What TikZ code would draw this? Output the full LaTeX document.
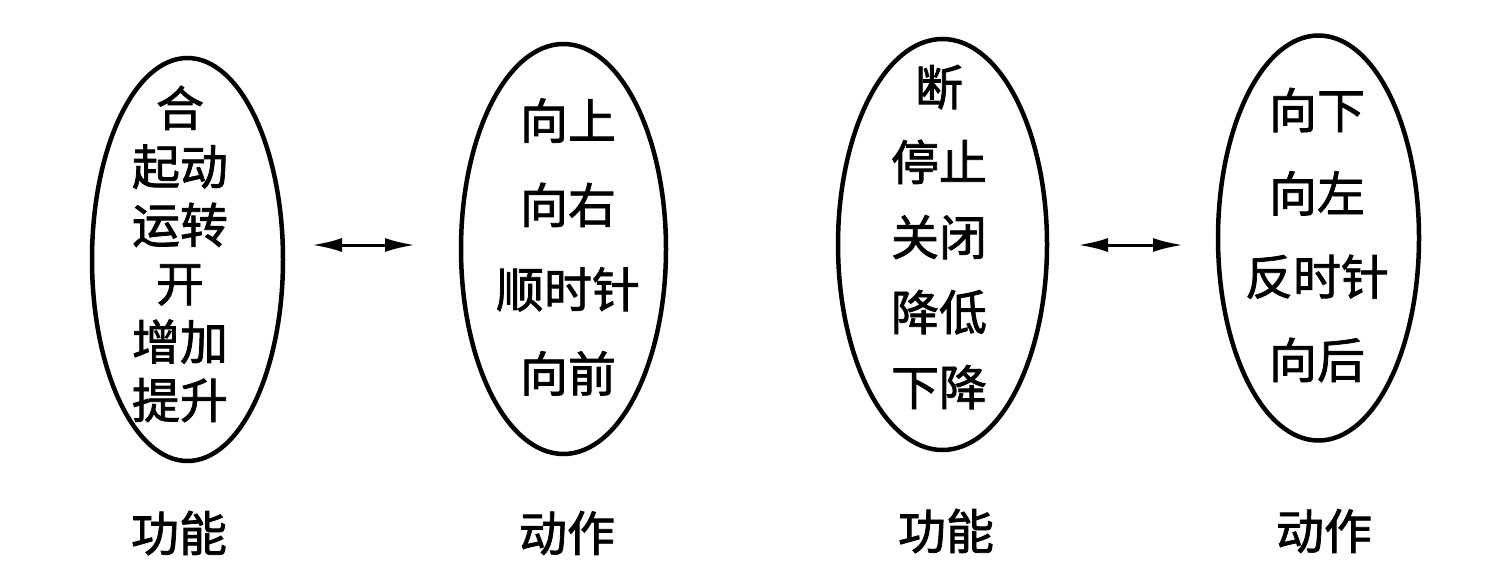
\documentclass[tikz,border=0pt]{standalone}
\usepackage{fontspec}
\newfontfamily\cjk{Noto Sans CJK SC}[FakeBold=1.6]
\usetikzlibrary{shapes.geometric,arrows.meta}
\tikzset{
  egg/.style={draw=black, line width=4.5pt, ellipse, inner sep=0pt},
  words/.style={align=center, inner sep=0pt, font=\cjk\fontsize{48}{#1}\selectfont},
  caption/.style={inner sep=0pt, font=\cjk\fontsize{48}{58}\selectfont},
  dbl/.style={line width=3pt, {Latex[length=30pt,width=14pt]}-{Latex[length=30pt,width=14pt]}}
}
\begin{document}
\begin{tikzpicture}[x=1pt,y=-1pt]
\useasboundingbox[fill=white] (0,0) rectangle (1488,567);
% ellipses
\node[egg, minimum width=191pt, minimum height=403pt] (e1) at (187.5,259.5) {};
\node[egg, minimum width=205pt, minimum height=410pt] (e2) at (563.5,249) {};
\node[egg, minimum width=209pt, minimum height=411pt] (e3) at (942.5,244.5) {};
\node[egg, minimum width=201pt, minimum height=405pt] (e4) at (1318.5,238) {};
% texts
\node[words=58.4] (t1) at (180,254) {合\\起动\\运转\\开\\增加\\提升};
\node[words=84.3] (t2) at (568,247) {向上\\向右\\顺时针\\向前};
\node[words=75] (t3) at (939,237) {断\\停止\\关闭\\降低\\下降};
\node[words=83.3] (t4) at (1317,235) {向下\\向左\\反时针\\向后};
% captions
\node[caption] (c1) at (179,533) {功能};
\node[caption] (c2) at (567,533) {动作};
\node[caption] (c3) at (946,531) {功能};
\node[caption] (c4) at (1324,531) {动作};
% arrows
\coordinate (a1l) at (312,245);
\coordinate (a1r) at (415,245);
\coordinate (a2l) at (1078,245);
\coordinate (a2r) at (1183,245);
\draw[dbl] (a1l) -- (a1r);
\draw[dbl] (a2l) -- (a2r);
\end{tikzpicture}
\end{document}
